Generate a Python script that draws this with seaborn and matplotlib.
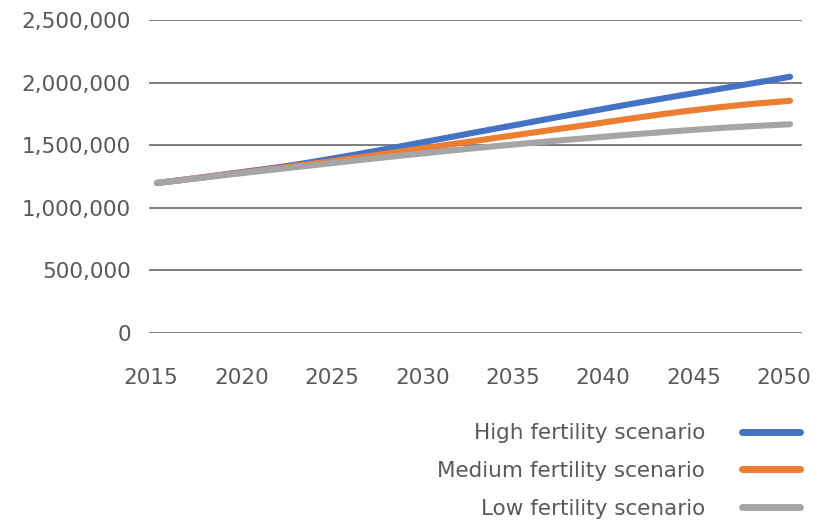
import numpy as np
import pandas as pd
import matplotlib
matplotlib.use("Agg")
import matplotlib.pyplot as plt
import matplotlib.transforms as mtransforms
from matplotlib.ticker import FuncFormatter
import seaborn as sns

# Projected population by fertility scenario (thousands), 2015-2050
years = list(range(2015, 2051))
high_fertility = [
    1198, 1216, 1234, 1253, 1272, 1291, 1310, 1330, 1352, 1376,
    1401, 1426, 1452, 1478, 1505, 1532, 1559, 1586, 1613, 1640,
    1666, 1693, 1720, 1746, 1772, 1798, 1824, 1849, 1874, 1899,
    1923, 1948, 1972, 1996, 2021, 2047,
]
medium_fertility = [
    1198, 1215, 1233, 1251, 1269, 1286, 1304, 1322, 1341, 1360,
    1379, 1399, 1419, 1439, 1460, 1481, 1502, 1522, 1543, 1564,
    1584, 1605, 1626, 1646, 1666, 1688, 1709, 1729, 1749, 1768,
    1785, 1802, 1817, 1831, 1843, 1855,
]
low_fertility = [
    1198, 1215, 1232, 1249, 1266, 1282, 1298, 1314, 1330, 1346,
    1362, 1378, 1394, 1409, 1424, 1439, 1454, 1468, 1482, 1496,
    1509, 1522, 1535, 1547, 1559, 1571, 1583, 1594, 1605, 1616,
    1626, 1636, 1645, 1653, 1660, 1667,
]
scenario_names = ["High fertility scenario", "Medium fertility scenario", "Low fertility scenario"]
scenario_colors = ["#4472C4", "#ED7D31", "#A5A5A5"]
x_ticks = [2015, 2020, 2025, 2030, 2035, 2040, 2045, 2050]
y_ticks = [0, 500000, 1000000, 1500000, 2000000, 2500000]

frames = []
for name, vals in zip(scenario_names, [high_fertility, medium_fertility, low_fertility]):
    frames.append(pd.DataFrame({"year": years,
                                "population": np.array(vals) * 1000,
                                "scenario": name}))
df = pd.concat(frames, ignore_index=True)

sns.set_theme(style="white")
plt.rcParams["font.family"] = ["DejaVu Sans"]
text_color = "#595959"
font_size = 15.5

fig = plt.figure(figsize=(8.27, 5.21), dpi=100)
W, H = 827, 521
ax = fig.add_axes([149 / W, 1 - 333 / H, (802 - 149) / W, (333 - 20) / H])

# series drawn in order, so the low scenario ends up on top
sns.lineplot(data=df, x="year", y="population", hue="scenario",
             hue_order=scenario_names, palette=scenario_colors,
             linewidth=4.4, ax=ax, legend=False, zorder=3)
for ln in ax.get_lines():
    ln.set_solid_capstyle("round")

ax.set_xlim(2014.56, 2050.66)
ax.set_ylim(0, 2500000)
ax.set_xticks(x_ticks)
ax.set_yticks(y_ticks)
ax.yaxis.set_major_formatter(FuncFormatter(lambda v, p: f"{int(v):,}"))
ax.set_xlabel("")
ax.set_ylabel("")
for s in ax.spines.values():
    s.set_visible(False)
ax.grid(axis="y", color="#6a6a6a", linewidth=1.2, zorder=0)
ax.grid(axis="x", visible=False)
ax.tick_params(axis="both", length=0, labelsize=font_size, labelcolor=text_color)
ax.tick_params(axis="y", pad=13)
ax.tick_params(axis="x", pad=25)

shift = mtransforms.ScaledTranslation(-6 / 100, 0, fig.dpi_scale_trans)
for lbl in ax.get_xticklabels():
    lbl.set_transform(lbl.get_transform() + shift)

handles = [plt.Line2D([], [], color=c, linewidth=5, solid_capstyle="round")
           for c in scenario_colors]
fig.legend(handles, scenario_names, loc="center right",
           bbox_to_anchor=(800 / W, 1 - 471 / H),
           bbox_transform=fig.transFigure,
           frameon=False, markerfirst=False, fontsize=font_size,
           labelcolor=text_color, handlelength=2.7, handletextpad=1.7,
           labelspacing=0.82, borderpad=0, borderaxespad=0)

fig.savefig("out.png", dpi=100)
